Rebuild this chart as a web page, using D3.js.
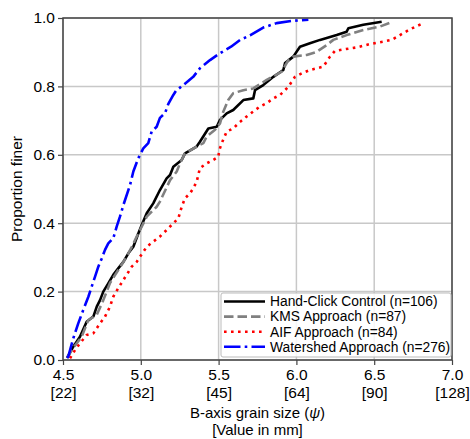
<!DOCTYPE html>
<html><head><meta charset="utf-8">
<script src="https://cdn.jsdelivr.net/npm/d3@7"></script>
<style>body{margin:0;background:#fff}svg{display:block}text{font-family:"Liberation Sans",Arial,sans-serif}</style>
</head><body><svg id="c" width="470" height="439"></svg>
<script>
// Data: [psi, proportion finer]
const handClick = [[4.526,0.006],[4.566,0.039],[4.609,0.068],[4.652,0.112],[4.695,0.127],[4.717,0.156],[4.738,0.175],[4.759,0.2],[4.791,0.224],[4.823,0.249],[4.855,0.268],[4.888,0.287],[4.920,0.312],[4.952,0.331],[4.984,0.370],[5.006,0.395],[5.038,0.429],[5.080,0.458],[5.123,0.497],[5.166,0.531],[5.188,0.541],[5.209,0.565],[5.263,0.585],[5.284,0.604],[5.359,0.624],[5.380,0.638],[5.434,0.677],[5.488,0.682],[5.509,0.702],[5.552,0.721],[5.594,0.731],[5.659,0.760],[5.723,0.765],[5.734,0.789],[5.787,0.804],[5.852,0.828],[5.916,0.848],[5.927,0.868],[5.980,0.887],[6.023,0.916],[6.087,0.926],[6.152,0.936],[6.259,0.950],[6.323,0.960],[6.334,0.970],[6.430,0.980],[6.548,0.989]];
const kms = [[4.526,0.006],[4.556,0.029],[4.620,0.068],[4.663,0.117],[4.717,0.132],[4.759,0.175],[4.802,0.225],[4.855,0.263],[4.909,0.302],[4.942,0.331],[4.963,0.351],[4.995,0.380],[5.038,0.419],[5.102,0.448],[5.123,0.463],[5.188,0.526],[5.231,0.551],[5.252,0.575],[5.284,0.604],[5.359,0.624],[5.402,0.634],[5.423,0.653],[5.477,0.673],[5.509,0.692],[5.530,0.726],[5.562,0.760],[5.594,0.780],[5.659,0.789],[5.723,0.794],[5.809,0.819],[5.906,0.843],[5.948,0.877],[5.980,0.887],[6.066,0.892],[6.130,0.901],[6.195,0.921],[6.237,0.936],[6.323,0.950],[6.430,0.965],[6.537,0.975],[6.614,0.988]];
const aif = [[4.545,0.005],[4.577,0.029],[4.609,0.049],[4.652,0.073],[4.695,0.078],[4.738,0.107],[4.770,0.127],[4.802,0.156],[4.823,0.185],[4.855,0.210],[4.888,0.234],[4.909,0.249],[4.942,0.273],[4.974,0.287],[4.995,0.302],[5.038,0.331],[5.080,0.346],[5.123,0.361],[5.166,0.380],[5.209,0.400],[5.241,0.414],[5.263,0.448],[5.284,0.473],[5.316,0.487],[5.337,0.502],[5.359,0.521],[5.380,0.561],[5.423,0.575],[5.466,0.585],[5.498,0.594],[5.505,0.614],[5.520,0.634],[5.552,0.668],[5.594,0.677],[5.627,0.692],[5.691,0.716],[5.766,0.741],[5.809,0.751],[5.852,0.765],[5.895,0.775],[5.927,0.789],[5.948,0.799],[5.991,0.828],[6.034,0.838],[6.087,0.848],[6.173,0.858],[6.216,0.887],[6.248,0.904],[6.301,0.908],[6.387,0.914],[6.473,0.924],[6.559,0.931],[6.612,0.936],[6.666,0.950],[6.730,0.967],[6.816,0.985]];
const watershed = [[4.526,0.006],[4.534,0.010],[4.566,0.063],[4.598,0.107],[4.630,0.146],[4.663,0.185],[4.684,0.214],[4.706,0.244],[4.727,0.273],[4.749,0.297],[4.770,0.322],[4.791,0.341],[4.823,0.356],[4.845,0.390],[4.866,0.419],[4.888,0.453],[4.931,0.512],[4.952,0.551],[4.984,0.590],[5.016,0.619],[5.048,0.634],[5.070,0.668],[5.102,0.682],[5.123,0.708],[5.156,0.722],[5.177,0.749],[5.209,0.775],[5.226,0.787],[5.273,0.804],[5.337,0.828],[5.380,0.853],[5.445,0.877],[5.509,0.897],[5.580,0.916],[5.638,0.936],[5.702,0.949],[5.787,0.972],[5.873,0.985],[5.980,0.992],[6.077,0.995]];
const seriesNames = ["Hand-Click Control (n=106)","KMS Approach (n=87)","AIF Approach (n=84)","Watershed Approach (n=276)"];
const xTicks = [4.5,5.0,5.5,6.0,6.5,7.0];
const xTickMm = ["[22]","[32]","[45]","[64]","[90]","[128]"];
const yTicks = [0.0,0.2,0.4,0.6,0.8,1.0];

const svg = d3.select("#c");
const L=63,R=452,T=18,B=360;
const x = d3.scaleLinear().domain([4.5,7.0]).range([L,R]);
const y = d3.scaleLinear().domain([0,1]).range([B,T]);
const frameColor="#444";
const fs = 15.5;

// grid
const g = svg.append("g");
g.selectAll(".vg").data(xTicks).join("line").attr("x1",d=>x(d)).attr("x2",d=>x(d)).attr("y1",T).attr("y2",B).attr("stroke","#c8c8c8").attr("stroke-width",1.5);
g.selectAll(".hg").data(yTicks).join("line").attr("y1",d=>y(d)).attr("y2",d=>y(d)).attr("x1",L).attr("x2",R).attr("stroke","#c8c8c8").attr("stroke-width",1.5);

// lines
const line = d3.line().x(d=>x(d[0])).y(d=>y(d[1]));
const styles = [
 {data:handClick,color:"#000",dash:null,w:2.6},
 {data:kms,color:"#808080",dash:"9.5 4",w:2.6},
 {data:aif,color:"#ff0000",dash:"2.6 4.4",w:2.6},
 {data:watershed,color:"#0000ff",dash:"16.5 4.2 2.6 4.2",w:2.6}
];
svg.append("clipPath").attr("id","pc").append("rect").attr("x",L).attr("y",T-3).attr("width",R-L).attr("height",B-T+3);
styles.forEach(s=>{
  svg.append("path").datum(s.data).attr("d",line).attr("fill","none").attr("stroke",s.color).attr("stroke-width",s.w).attr("stroke-dasharray",s.dash).attr("stroke-linejoin","round").attr("clip-path","url(#pc)");
});

// frame
svg.append("rect").attr("x",L).attr("y",T).attr("width",R-L).attr("height",B-T).attr("fill","none").attr("stroke",frameColor).attr("stroke-width",1.5);

// x axis
const xa = svg.append("g").attr("transform",`translate(0,${B})`).call(d3.axisBottom(x).tickValues(xTicks).tickSize(5).tickFormat(d3.format(".1f")));
xa.select(".domain").remove();
xa.selectAll("line").attr("stroke",frameColor).attr("stroke-width",1.2);
xa.selectAll("text").attr("font-size",fs).attr("fill","#000").attr("dy",null).attr("y",20);
xa.selectAll(".tick").append("text").text((d,i)=>xTickMm[i]).attr("y",38).attr("font-size",fs).attr("fill","#000").attr("text-anchor","middle");

const ya = svg.append("g").attr("transform",`translate(${L},0)`).call(d3.axisLeft(y).tickValues(yTicks).tickSize(5).tickFormat(d3.format(".1f")));
ya.select(".domain").remove();
ya.selectAll("line").attr("stroke",frameColor).attr("stroke-width",1.2);
ya.selectAll("text").attr("font-size",fs).attr("fill","#000").attr("x",-8);

// axis labels
const xl = svg.append("text").attr("x",(L+R)/2).attr("y",418).attr("text-anchor","middle").attr("font-size",15);
xl.append("tspan").text("B-axis grain size (");
xl.append("tspan").text("ψ").attr("font-style","italic");
xl.append("tspan").text(")");
svg.append("text").attr("x",(L+R)/2).attr("y",435).attr("text-anchor","middle").attr("font-size",15).text("[Value in mm]");
svg.append("text").attr("transform",`translate(22,${(T+B)/2}) rotate(-90)`).attr("text-anchor","middle").attr("font-size",15.5).text("Proportion finer");

// legend
const lg = svg.append("g");
lg.append("rect").attr("x",221).attr("y",293).attr("width",230).attr("height",64).attr("rx",2).attr("fill","#fff").attr("fill-opacity",0.85).attr("stroke","#bbb").attr("stroke-width",1);
styles.forEach((s,i)=>{
  const cy = 301.5 + i*15.1;
  lg.append("line").attr("x1",224).attr("x2",265).attr("y1",cy).attr("y2",cy).attr("stroke",s.color).attr("stroke-width",s.w).attr("stroke-dasharray",s.dash);
  lg.append("text").attr("x",270).attr("y",cy).attr("dy","0.35em").attr("font-size",13.8).text(seriesNames[i]);
});
</script></body></html>
